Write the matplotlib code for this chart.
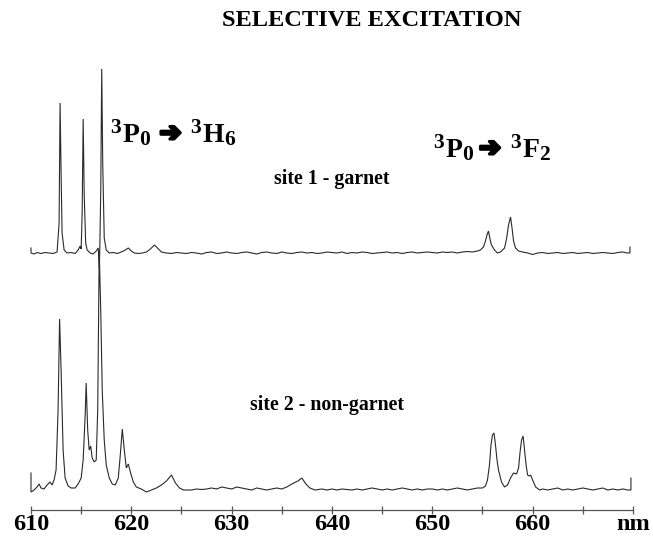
import matplotlib
matplotlib.use("Agg")
import matplotlib.pyplot as plt
import matplotlib.patheffects as pe

# ---------------- data ----------------
# site 1 - garnet : wavelength (nm) and intensity (arb. units)
wl1 = [610.0, 610.0, 610.3, 610.6, 611.0, 611.4, 611.8, 612.2, 612.6, 612.8, 612.9, 613.0, 613.1, 613.3,
       613.6, 614.0, 614.4, 614.7, 614.9, 615.0, 615.1, 615.2, 615.3, 615.45, 615.6, 615.9, 616.2, 616.5,
       616.7, 616.8, 616.85, 616.95, 617.05, 617.15, 617.3, 617.5, 617.8, 618.2, 618.6, 619.0, 619.4,
       619.7, 620.0, 620.3, 620.7, 621.1, 621.5, 621.9, 622.3, 622.7, 623.0, 623.5, 624.0, 624.5, 625.0,
       625.5, 626.0, 626.5, 627.0, 627.5, 628.0, 628.5, 629.0, 629.5, 630.0, 630.5, 631.0, 631.5, 632.0,
       632.5, 633.0, 633.5, 634.0, 634.5, 635.0, 635.5, 636.0, 636.5, 637.0, 637.5, 638.0, 638.5, 639.0,
       639.5, 640.0, 640.5, 641.0, 641.5, 642.0, 642.5, 643.0, 643.5, 644.0, 644.5, 645.0, 645.5, 646.0,
       646.5, 647.0, 647.5, 648.0, 648.5, 649.0, 649.5, 650.0, 650.5, 651.0, 651.5, 652.0, 652.5, 653.0,
       653.5, 654.0, 654.5, 654.8, 655.1, 655.3, 655.45, 655.6, 655.75, 655.9, 656.2, 656.5, 656.8, 657.2,
       657.4, 657.6, 657.8, 657.95, 658.1, 658.3, 658.6, 659.0, 659.5, 660.0, 660.5, 661.0, 661.5, 662.0,
       662.5, 663.0, 663.5, 664.0, 664.5, 665.0, 665.5, 666.0, 666.5, 667.0, 667.5, 668.0, 668.5, 669.0,
       669.4, 669.7, 669.7]
int1 = [5, 0, -1, 0.5, -0.5, 0.5, 0, -0.5, 1, 30, 150, 80, 20, 3,
        0, 0.5, -0.5, 3, 7, 4, 40, 134, 60, 10, 3, 0, -1, 2,
        5, -15, 0, 60, 184, 90, 15, 3, 0, 0.5, -0.5, 1, 3,
        5, 2, 0, -0.5, 0, 1, 4, 8, 4, 1, 0, -0.5, 0.5, 0,
        -0.5, 0.5, 0, -1, 0.5, 1, -0.5, 0, 1, 0, -0.5, 0.5, 1, 0,
        -1, 0.5, 1, 0, -0.5, 1, 0, -0.5, 0.5, 1, 0, 0.5, -0.5, 0,
        1, 0.5, 0, 1, -0.5, 0.5, 0, 1, 0.5, -0.5, 0, 0.5, 1, 0,
        0.5, -0.5, 0.5, 1, 0, 0.5, 1, 0.5, 0, 1, 0.5, 1, 0, 1,
        1.5, 1, 2, 3, 6, 12, 18, 22, 14, 8, 3, 0, 1, 5,
        14, 28, 36, 25, 12, 5, 2, 1, 0, -1.5, 0, 0.5, -0.5, 0,
        0.5, -0.5, 0, 0.5, -0.5, 0, 0.5, -0.5, 0, 0.5, 0, -0.5, 0.5, 1,
        0, 0, 6]

# site 2 - non-garnet
wl2 = [610.0, 610.0, 610.3, 610.6, 610.8, 611.0, 611.3, 611.6, 611.9, 612.1, 612.3, 612.5, 612.7, 612.85,
       613.0, 613.2, 613.4, 613.7, 614.0, 614.4, 614.7, 615.0, 615.2, 615.4, 615.5, 615.65, 615.8, 615.95,
       616.1, 616.3, 616.5, 616.65, 616.8, 616.95, 617.1, 617.3, 617.5, 617.8, 618.1, 618.4, 618.7, 618.9,
       619.1, 619.3, 619.5, 619.7, 619.9, 620.2, 620.5, 621.0, 621.5, 622.0, 622.5, 623.0, 623.5, 624.0,
       624.4, 624.8, 625.2, 626.0, 626.5, 627.0, 627.5, 628.0, 628.5, 629.0, 629.5, 630.0, 630.5, 631.0,
       631.5, 632.0, 632.5, 633.0, 633.5, 634.0, 634.5, 635.0, 635.5, 636.0, 636.6, 637.0, 637.4, 637.8,
       638.3, 639.0, 639.5, 640.0, 640.5, 641.0, 641.5, 642.0, 642.5, 643.0, 643.5, 644.0, 644.5, 645.0,
       645.5, 646.0, 646.5, 647.0, 647.5, 648.0, 648.5, 649.0, 649.5, 650.0, 650.5, 651.0, 651.5, 652.0,
       652.5, 653.0, 653.5, 654.0, 654.5, 655.0, 655.3, 655.5, 655.7, 655.85, 656.0, 656.15, 656.3, 656.45,
       656.6, 656.9, 657.2, 657.5, 657.8, 658.1, 658.4, 658.6, 658.75, 658.9, 659.05, 659.2, 659.35, 659.5,
       659.65, 659.8, 660.0, 660.3, 660.7, 661.0, 661.5, 662.0, 662.5, 663.0, 663.5, 664.0, 664.5, 665.0,
       665.5, 666.0, 666.5, 667.0, 667.5, 668.0, 668.5, 669.0, 669.5, 669.8, 669.8]
int2 = [17, -2, 0, 3, 6, 2, 1, 5, 8, 5, 10, 20, 80, 171,
        120, 40, 12, 4, 2, 2, 6, 12, 30, 75, 107, 60, 40, 44,
        32, 28, 30, 80, 240, 180, 100, 50, 25, 12, 6, 5, 12, 35,
        61, 40, 22, 26, 18, 8, 3, 1, -2, 0, 2, 5, 9, 15,
        7, 2, 0, 0, 1, 0.5, 1, 2, 1, 3, 2, 1, 3, 2,
        1, 0, 2, 1, 0, 1, 2, 1, 3, 6, 9, 12, 6, 2,
        0, 1, 0, 1, 0, 1, 0.5, 0, 1, 0, 1, 2, 1, 0,
        1, 0, 1, 2, 1, 0, 1, 0, 1, 1, 0, 1, 0, 1,
        2, 1, 0, 1, 2, 2, 4, 10, 25, 45, 55, 57, 45, 30,
        20, 8, 3, 5, 12, 17, 16, 22, 38, 50, 54, 40, 25, 15,
        14, 15, 10, 3, 0, 1, 0, 1, 2, 0, 1, 0, 1, 2,
        1, 0, 1, 2, 0, 1, 0, 1, 0, 0, 12]

tick_positions = [610, 615, 620, 625, 630, 635, 640, 645, 650, 655, 660, 665, 670]
tick_labels = ['610', '', '620', '', '630', '', '640', '', '650', '', '660', '', 'nm']

title = "SELECTIVE EXCITATION"
label_site1 = "site 1 - garnet"
label_site2 = "site 2 - non-garnet"

# ---------------- layout ----------------
W, H = 653, 538
DPI = 100
offset1 = 257   # baseline of upper trace (units above the axis line)
offset2 = 20    # baseline of lower trace

SERIF = ['Liberation Serif', 'DejaVu Serif']

fig = plt.figure(figsize=(W / DPI, H / DPI), dpi=DPI)
ax = fig.add_axes([0, 0, 1, 1])
ax.set_xlim(606.91, 672.0)
ax.set_ylim(-28, 510)

line_kw = dict(color='#2a2a2a', lw=0.8, solid_joinstyle='miter')
ax.plot(wl1, [v + offset1 for v in int1], **line_kw)
ax.plot(wl2, [v + offset2 for v in int2], **line_kw)

for s in ['top', 'right', 'left']:
    ax.spines[s].set_visible(False)
ax.spines['bottom'].set_position(('data', 0))
ax.spines['bottom'].set_bounds(610, 670)
ax.spines['bottom'].set_color('#555555')
ax.spines['bottom'].set_linewidth(0.9)
ax.set_yticks([])
ax.set_xticks(tick_positions)
ax.set_xticklabels(tick_labels, fontfamily=SERIF, fontweight='bold', fontsize=17.5)
ax.tick_params(axis='x', direction='inout', length=6, width=0.9, color='#555555', pad=0)

ax.patch.set_alpha(0)


def fx(px):
    return px / W


def fy(py):
    return 1 - py / H


fig.text(fx(372), fy(21), title, ha='center', va='center', fontfamily=SERIF,
         fontweight='bold', fontsize=17.6)
fig.text(fx(332), fy(179), label_site1, ha='center', va='center', fontfamily=SERIF,
         fontweight='bold', fontsize=14.3)
fig.text(fx(327), fy(405), label_site2, ha='center', va='center', fontfamily=SERIF,
         fontweight='bold', fontsize=14.3)

renderer = fig.canvas.get_renderer()


def term(x_px, base_px, sup, main, sub):
    pieces = [(sup, 15.5, 9, 1.5), (main, 20, 0, 0.5), (sub, 15.5, -3, 0)]
    cur = x_px
    for s, size, dy, gap in pieces:
        t = fig.text(fx(cur), fy(base_px - dy), s, ha='left', va='baseline',
                     fontfamily=SERIF, fontweight='bold', fontsize=size)
        bb = t.get_window_extent(renderer)
        cur += bb.width + gap


def arrow(x_center, y_center):
    fig.text(fx(x_center), fy(y_center), '\u2794', ha='center', va='center',
             fontfamily=['DejaVu Sans'], fontweight='bold', fontsize=19,
             path_effects=[pe.withStroke(linewidth=2.2, foreground='black')])


# 3P0 -> 3H6
term(110, 142, '3', 'P', '0')
arrow(170.5, 134)
term(190, 142, '3', 'H', '6')
# 3P0 -> 3F2
term(433, 157, '3', 'P', '0')
arrow(490, 149)
term(510, 157, '3', 'F', '2')

fig.savefig('out.png', dpi=DPI)
